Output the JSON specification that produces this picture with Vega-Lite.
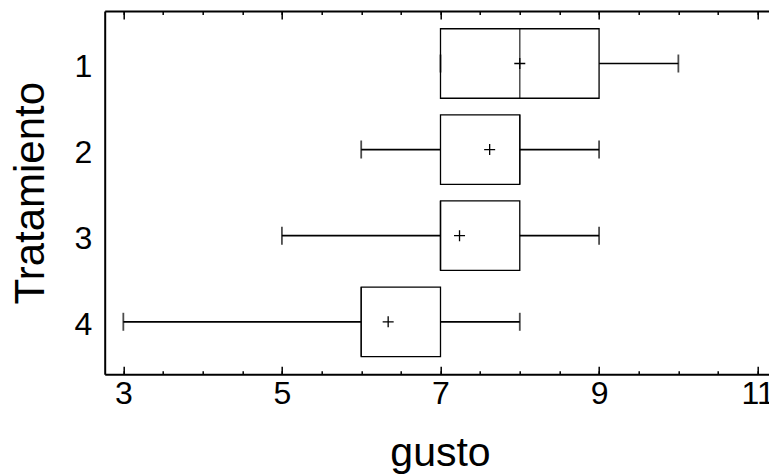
{
  "$schema": "https://vega.github.io/schema/vega-lite/v6.json",
  "width": 664.3,
  "height": 363.3,
  "autosize": "none",
  "padding": {"left": 104.7, "top": 11, "right": 0, "bottom": 100.7},
  "background": "white",
  "config": {
    "view": {"stroke": null},
    "font": "Liberation Sans",
    "axis": {
      "grid": false,
      "domainColor": "black",
      "tickColor": "black",
      "labelColor": "black",
      "titleColor": "black",
      "labelFont": "Liberation Sans",
      "titleFont": "Liberation Sans",
      "titleFontWeight": "normal"
    }
  },
  "data": {
    "values": [
      {"trat": "1", "min": 7, "q1": 7, "med": 8, "q3": 9, "max": 10, "mean": 8.0},
      {"trat": "2", "min": 6, "q1": 7, "med": 8, "q3": 8, "max": 9, "mean": 7.62},
      {"trat": "3", "min": 5, "q1": 7, "med": 7, "q3": 8, "max": 9, "mean": 7.24},
      {"trat": "4", "min": 3, "q1": 6, "med": 6, "q3": 7, "max": 8, "mean": 6.34}
    ]
  },
  "encoding": {
    "y": {
      "field": "trat",
      "type": "ordinal",
      "scale": {"type": "band", "domain": ["1", "2", "3", "4"], "paddingInner": 0, "paddingOuter": 0.11},
      "axis": {
        "title": "Tratamiento",
        "ticks": false,
        "domainWidth": 2,
        "labelFontSize": 32,
        "labelPadding": 13,
        "labelAngle": 0,
        "labelBaseline": "middle",
        "labelOffset": 3,
        "titleFontSize": 42,
        "titleAngle": -90,
        "titleX": -61.4,
        "titleY": 181.65,
        "titleBaseline": "alphabetic",
        "titleAlign": "center"
      }
    }
  },
  "layer": [
    {
      "mark": {"type": "rule", "color": "black", "strokeWidth": 1.7},
      "encoding": {
        "x": {
          "field": "min",
          "type": "quantitative",
          "scale": {"domain": [2.765, 11.143], "nice": false, "zero": false},
          "axis": {
            "orient": "bottom",
            "values": [3, 5, 7, 9, 11],
            "title": "gusto",
            "tickSize": -8,
            "tickWidth": 1.5,
            "domainWidth": 2,
            "labelFontSize": 32,
            "labelPadding": 12.4,
            "labelBaseline": "top",
            "labelFlush": false,
            "labelOverlap": false,
            "titleFontSize": 41,
            "titleX": 335.3,
            "titleY": 91.5,
            "titleBaseline": "alphabetic",
            "titleAlign": "center"
          }
        },
        "x2": {"field": "max"}
      }
    },
    {
      "mark": {"type": "bar", "fill": "white", "stroke": "black", "strokeWidth": 1.3, "size": 69.5},
      "encoding": {
        "x": {
          "field": "q1",
          "type": "quantitative",
          "scale": {"domain": [2.765, 11.143], "nice": false, "zero": false},
          "axis": {
            "orient": "bottom",
            "values": [3, 3.5, 4, 4.5, 5, 5.5, 6, 6.5, 7, 7.5, 8, 8.5, 9, 9.5, 10, 10.5, 11],
            "tickSize": -3.5,
            "tickWidth": 1.5,
            "labels": false,
            "domain": false,
            "title": null
          }
        },
        "x2": {"field": "q3"}
      }
    },
    {
      "mark": {"type": "tick", "color": "black", "thickness": 1.5, "size": 69.5},
      "encoding": {
        "x": {
          "field": "med",
          "type": "quantitative",
          "scale": {"domain": [2.765, 11.143], "nice": false, "zero": false},
          "axis": {
            "orient": "top",
            "values": [3, 5, 7, 9, 11],
            "tickSize": -8,
            "tickWidth": 1.5,
            "domainWidth": 2,
            "labels": false,
            "title": null
          }
        }
      }
    },
    {
      "mark": {"type": "tick", "color": "black", "thickness": 1.8, "size": 18},
      "encoding": {
        "x": {
          "field": "min",
          "type": "quantitative",
          "scale": {"domain": [2.765, 11.143], "nice": false, "zero": false},
          "axis": {
            "orient": "top",
            "values": [3, 3.5, 4, 4.5, 5, 5.5, 6, 6.5, 7, 7.5, 8, 8.5, 9, 9.5, 10, 10.5, 11],
            "tickSize": -3.5,
            "tickWidth": 1.5,
            "labels": false,
            "domain": false,
            "title": null
          }
        }
      }
    },
    {
      "mark": {"type": "tick", "color": "black", "thickness": 1.8, "size": 18},
      "encoding": {
        "x": {
          "field": "max",
          "type": "quantitative",
          "scale": {"domain": [2.765, 11.143], "nice": false, "zero": false},
          "axis": null
        }
      }
    },
    {
      "mark": {"type": "point", "shape": "M-1,0H1M0,-1V1", "size": 121, "filled": false, "stroke": "black", "strokeWidth": 1.3, "opacity": 1},
      "encoding": {
        "x": {
          "field": "mean",
          "type": "quantitative",
          "scale": {"domain": [2.765, 11.143], "nice": false, "zero": false},
          "axis": null
        }
      }
    }
  ],
  "resolve": {"axis": {"x": "independent"}}
}
